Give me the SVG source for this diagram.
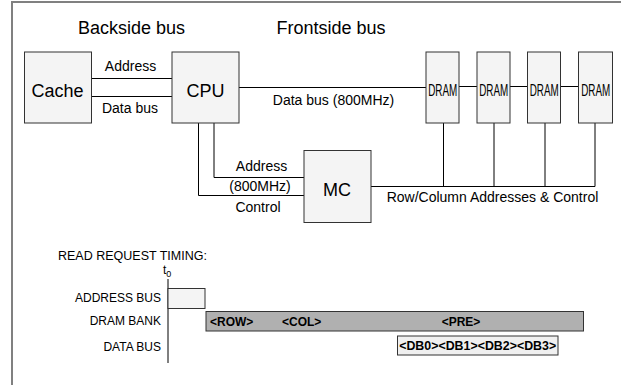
<svg xmlns="http://www.w3.org/2000/svg" width="621" height="385" viewBox="0 0 621 385">
<style>
.box{fill:#f4f4f4;stroke:#333;stroke-width:1}
.ln{fill:none;stroke:#000;stroke-width:1}
text{font-family:"Liberation Sans",Arial,sans-serif;fill:#000}
.big{font-size:18px;text-anchor:middle}
.lbl{font-size:14px;text-anchor:middle}
.dram{font-size:17px;text-anchor:middle}
.tl{font-size:12px;text-anchor:end}
.b{font-size:12px;font-weight:bold}
</style>
<rect width="621" height="385" fill="#fff"/>
<path d="M12,385 V2 H621" fill="none" stroke="#808080" stroke-width="2"/>
<text class="big" x="131.5" y="33.5">Backside bus</text>
<text class="big" x="331" y="33.5">Frontside bus</text>
<g id="connectors">
<path class="ln" d="M91,78.5 H172 M91,96.5 H172 M239,87.5 H426 M459,86.5 H477 M510,86.5 H527 M561,86.5 H578"/>
<path class="ln" d="M214,123 V177.5 H304 M198.5,123 V195.5 H304 M371,186.5 H595 M443.5,123 V186.5 M494,123 V186.5 M545,123 V186.5 M595,123 V186.5"/>
<text class="lbl" x="130.5" y="71">Address</text>
<text class="lbl" x="130" y="112.5">Data bus</text>
<text class="lbl" x="333.5" y="105">Data bus (800MHz)</text>
<text class="lbl" x="261.5" y="171">Address</text>
<text class="lbl" x="260" y="191">(800MHz)</text>
<text class="lbl" x="258" y="211.5">Control</text>
<text class="lbl" x="492.5" y="202">Row/Column Addresses &amp; Control</text>
</g>
<g id="cache"><rect class="box" x="24.5" y="52" width="67" height="71"/><text class="big" x="57.5" y="96.5">Cache</text></g>
<g id="cpu"><rect class="box" x="172" y="52" width="67" height="71"/><text class="big" x="205.5" y="96.5">CPU</text></g>
<g id="mc"><rect class="box" x="304" y="150.5" width="67" height="72"/><text class="big" x="337" y="195.5">MC</text></g>
<g id="dram1"><rect class="box" x="426" y="52" width="33" height="71"/><text class="dram" transform="translate(442.7,95.5) scale(0.58,1)">DRAM</text></g>
<g id="dram2"><rect class="box" x="477" y="52" width="33" height="71"/><text class="dram" transform="translate(493.7,95.5) scale(0.58,1)">DRAM</text></g>
<g id="dram3"><rect class="box" x="527.5" y="52" width="33" height="71"/><text class="dram" transform="translate(544.2,95.5) scale(0.58,1)">DRAM</text></g>
<g id="dram4"><rect class="box" x="578.5" y="52" width="34" height="71"/><text class="dram" transform="translate(595.7,95.5) scale(0.58,1)">DRAM</text></g>
<g id="timing">
<text x="58" y="259.5" font-size="12.5">READ REQUEST TIMING:</text>
<text x="163" y="274" font-size="12">t<tspan font-size="9" dy="3">0</tspan></text>
<path class="ln" d="M168,279 V363"/>
<text class="tl" x="161" y="301.5">ADDRESS BUS</text>
<text class="tl" x="161" y="324.5">DRAM BANK</text>
<text class="tl" x="161" y="351">DATA BUS</text>
<rect x="168" y="288.5" width="37" height="20" fill="#f4f4f4" stroke="#333"/>
<rect x="206" y="311.5" width="377.5" height="19.5" fill="#b0b0b0" stroke="#333"/>
<text class="b" x="210" y="326">&lt;ROW&gt;</text>
<text class="b" x="282" y="326">&lt;COL&gt;</text>
<text class="b" x="461" y="326" text-anchor="middle">&lt;PRE&gt;</text>
<rect x="397.5" y="336" width="160.5" height="19" fill="#f0f0f0" stroke="#333"/>
<text class="b" x="477.7" y="350" text-anchor="middle" textLength="157" lengthAdjust="spacingAndGlyphs">&lt;DB0&gt;&lt;DB1&gt;&lt;DB2&gt;&lt;DB3&gt;</text>
</g>
</svg>
